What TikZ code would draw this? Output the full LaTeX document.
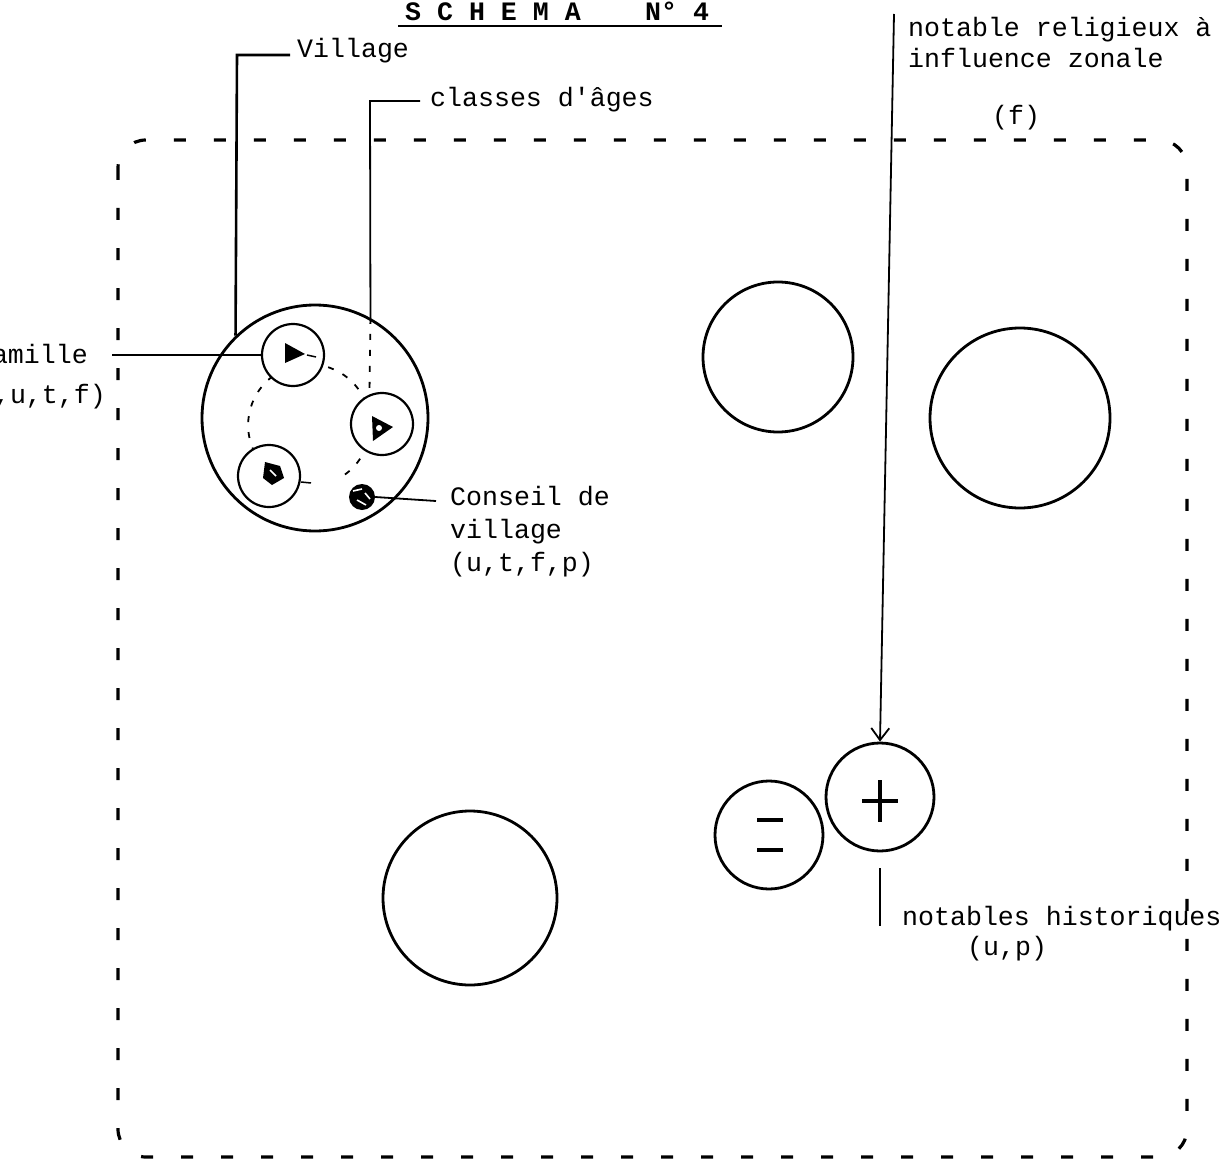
\documentclass[tikz,border=0pt]{standalone}
\usepackage{fontspec}
\setmonofont{Liberation Mono}
\usetikzlibrary{arrows.meta}
\begin{document}
\begin{tikzpicture}[x=1pt,y=-1pt,
  lbl/.style={font=\fontsize{26.6}{32}\selectfont\ttfamily, inner sep=0pt, anchor=base west},
  ttl/.style={font=\fontsize{26.6}{30}\selectfont\ttfamily\bfseries, inner sep=0pt, anchor=base west},
  bigc/.style={circle, draw, line width=2.8pt, inner sep=0pt, fill=white},
  famc/.style={circle, draw, line width=2.2pt, inner sep=0pt, fill=white, minimum size=62pt},
  conn/.style={line width=1.8pt},
  ringdash/.style={line width=1.8pt, dash pattern=on 6pt off 10pt},
  border/.style={line width=3.2pt, dash pattern=on 12pt off 28pt, rounded corners=28pt}]
\useasboundingbox (0,0) rectangle (1231,1169);

% title
\node[ttl] (t1) at (405,21) {S C H E M A};
\node[ttl] (t2) at (645,21) {N°  4};
\draw[line width=2.5pt] (398,26) -- (722,26);

% zone border
\draw[border] (118,140) rectangle (1187,1157);

% village
\node[bigc, minimum size=226pt] (village) at (315,418) {};
\node[circle, minimum size=122pt, inner sep=0pt] (ring) at (309,425) {};
\draw[ringdash] (ring.-54) arc[start angle=-54, end angle=235, radius=61pt];
\node[famc] (fam1) at (293,355) {};
\node[famc] (fam2) at (382,424) {};
\node[famc] (fam3) at (269,476) {};
\fill (285,343) -- (305,354) -- (285,363) -- cycle;
\draw[line width=1.5pt] (307,355) -- (316,357);
\fill (372,416) -- (393,427) -- (373,441) -- cycle;
\fill[white] (379,428) circle[radius=3pt];
\fill (265,462) -- (280,466) -- (284,478) -- (272,485) -- (263,478) -- cycle;
\draw[white, line width=1.5pt] (270,470) -- (276,476);
\draw[line width=1.5pt] (301,482) -- (311,483);
\node[circle, fill, minimum size=26pt, inner sep=0pt] (council) at (362,497) {};
\draw[white, line width=1.6pt] (353,491) -- (362,489) (357,500) -- (366,505) (365,493) -- (370,499);

% labels and connectors
\node[lbl] (vtxt) at (297,58) {Village};
\coordinate (vend) at (290,55);
\coordinate (vknee) at (237,55);
\draw[line width=2.6pt] (vend) -- (vknee) -- (village.134);

\node[lbl] (ctxt) at (430,107) {classes d'âges};
\coordinate (cend) at (420,101);
\coordinate (cknee) at (370,101);
\draw[conn] (cend) -- (cknee) -- (village.61);
\draw[ringdash] (village.61) -- (fam2.113);

\node[lbl, anchor=base east] (famtxt) at (88,363) {Famille};
\node[lbl, anchor=base east] (famtxt2) at (106,403) {(p,u,t,f)};
\coordinate (famend) at (112,355);
\draw[conn] (fam1.west) -- (famend);

\node[lbl] (ct1) at (450,505) {Conseil de};
\node[lbl] (ct2) at (450,538) {village};
\node[lbl] (ct3) at (450,571) {(u,t,f,p)};
\coordinate (ctend) at (436,501);
\draw[conn] (council.east) -- (ctend);

% other villages
\node[bigc, minimum size=150pt] (c1) at (778,357) {};
\node[bigc, minimum size=180pt] (c2) at (1020,418) {};
\node[bigc, minimum size=174pt] (c3) at (470,898) {};

% notables
\node[bigc, minimum size=108pt] (plus) at (880,797) {};
\node[bigc, minimum size=108pt] (minus) at (769,835) {};
\draw[line width=3.6pt] (862,801) -- (898,801) (880,780) -- (880,822);
\draw[line width=3.6pt] (757,820) -- (783,820) (757,850) -- (783,850);

\node[lbl] (rt1) at (908,37) {notable religieux à};
\node[lbl] (rt2) at (908,68) {influence zonale};
\node[lbl] (ftxt) at (992,125) {(f)};
\coordinate (reltop) at (894,14);
\draw[conn, -{Straight Barb[length=12pt,width=18pt]}] (reltop) -- (plus.north);

\node[lbl] (nh1) at (902,925) {notables historiques};
\node[lbl] (nh2) at (967,955) {(u,p)};
\draw[line width=2.4pt] ([yshift=-16pt]plus.south) -- ++(0,58);
\end{tikzpicture}
\end{document}
